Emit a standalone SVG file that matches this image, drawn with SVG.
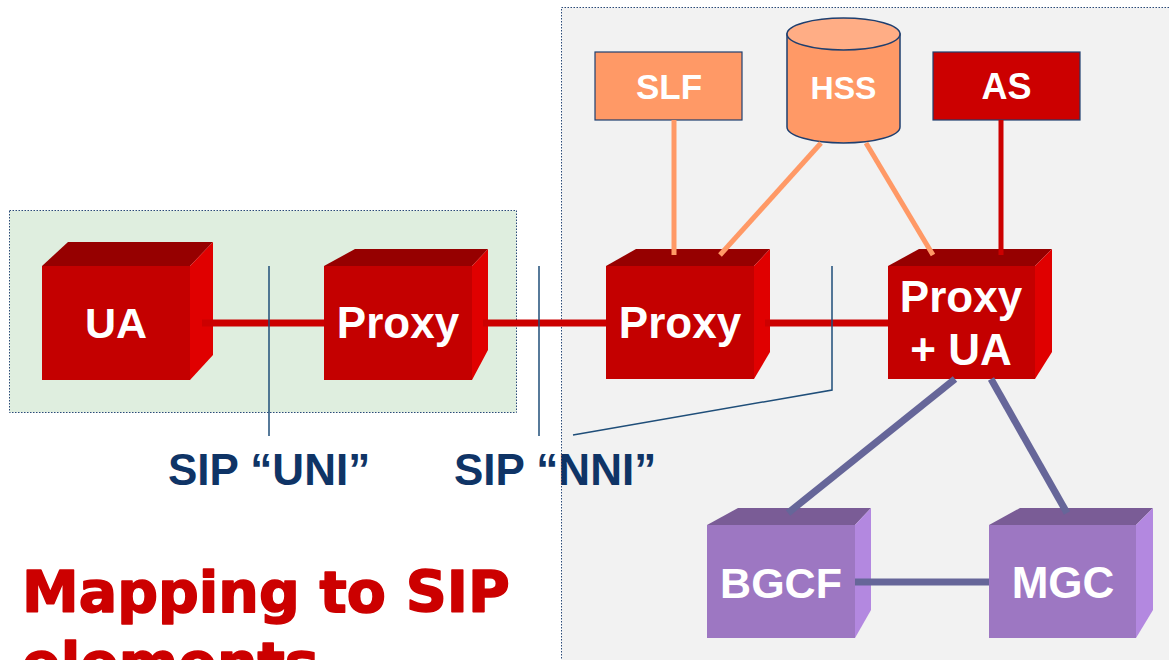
<svg xmlns="http://www.w3.org/2000/svg" width="1169" height="660" viewBox="0 0 1169 660">
<style>
.panel{stroke:#2a4a78;stroke-width:1;stroke-dasharray:1.5 1.5}
.front{fill:#c40000}.top{fill:#960000}.side{fill:#e00000}
.pfront{fill:#9d77c2}.ptop{fill:#7a5c96}.pside{fill:#b388e0}
.lbl{font-family:"Liberation Sans",Arial,sans-serif;font-weight:bold;fill:#ffffff;text-anchor:middle}
.red{stroke:#cc0000;fill:none}
.org{stroke:#ff9966;stroke-width:5;fill:none}
.pur{stroke:#666699;stroke-width:7;fill:none}
.thin{stroke:#1f4e79;stroke-width:1.5;fill:none}
.sip{font-family:"Liberation Sans",Arial,sans-serif;font-weight:bold;font-size:44px;fill:#0f3466}
.title{font-family:"DejaVu Sans","Liberation Sans",sans-serif;font-weight:bold;font-size:57px;fill:#cc0000;stroke:#cc0000;stroke-width:1.6;stroke-linejoin:round}
</style>
<rect width="1169" height="660" fill="#ffffff"/>
<g id="panels">
<rect class="panel" x="9.5" y="210.5" width="507" height="202" fill="#dfeedf"/>
<rect class="panel" x="561.5" y="7.5" width="620" height="670" fill="#f2f2f2"/>
</g>
<g id="UA">
<rect class="front" x="42" y="266" width="148" height="114"/>
<polygon class="top" points="42,266 68,242 213,242 190,266"/>
<polygon class="side" points="190,266 213,242 213,355 190,380"/>
<text class="lbl" x="116" y="338" font-size="43">UA</text>
</g>
<g id="Proxy1">
<rect class="front" x="324" y="266" width="148" height="114"/>
<polygon class="top" points="324,266 355,249 488,249 472,266"/>
<polygon class="side" points="472,266 488,249 488,350 472,380"/>
<text class="lbl" x="398" y="338" font-size="44">Proxy</text>
</g>
<g id="Proxy2">
<rect class="front" x="606" y="266" width="148" height="113"/>
<polygon class="top" points="606,266 636,249 770,249 754,266"/>
<polygon class="side" points="754,266 770,249 770,352 754,379"/>
<text class="lbl" x="680" y="338" font-size="44">Proxy</text>
</g>
<g id="ProxyUA">
<rect class="front" x="888" y="266" width="147" height="113"/>
<polygon class="top" points="888,266 919,249 1052,249 1035,266"/>
<polygon class="side" points="1035,266 1052,249 1052,352 1035,379"/>
<text class="lbl" x="961" y="312" font-size="44">Proxy</text>
<text class="lbl" x="961" y="365" font-size="44">+ UA</text>
</g>
<g id="SLF">
<rect x="595" y="52" width="147" height="68" fill="#ff9966" stroke="#1f3f6f" stroke-width="1.2"/>
<text class="lbl" x="669" y="99" font-size="35">SLF</text>
</g>
<g id="HSS">
<path d="M787,34 L787,127 A56.5,16 0 0 0 900,127 L900,34 Z" fill="#ff9966" stroke="#1f3f6f" stroke-width="1.5"/>
<ellipse cx="843.5" cy="34" rx="56.5" ry="16" fill="#ffad85" stroke="#1f3f6f" stroke-width="1.5"/>
<text class="lbl" x="843.5" y="99" font-size="32">HSS</text>
</g>
<g id="AS">
<rect x="933" y="52" width="147" height="68" fill="#cc0000" stroke="#1f3f6f" stroke-width="1.2"/>
<text class="lbl" x="1006.5" y="99" font-size="36">AS</text>
</g>
<g id="BGCF">
<rect class="pfront" x="707" y="525" width="148" height="113"/>
<polygon class="ptop" points="707,525 738,508 871,508 855,525"/>
<polygon class="pside" points="855,525 871,508 871,610 855,638"/>
<text class="lbl" x="781" y="598" font-size="43">BGCF</text>
</g>
<g id="MGC">
<rect class="pfront" x="989" y="525" width="147" height="113"/>
<polygon class="ptop" points="989,525 1020,508 1153,508 1136,525"/>
<polygon class="pside" points="1136,525 1153,508 1153,610 1136,638"/>
<text class="lbl" x="1063" y="598" font-size="44">MGC</text>
</g>
<g id="connectors">
<line class="red" stroke-width="7" x1="202" y1="323" x2="324" y2="323"/>
<line class="red" stroke-width="7" x1="483" y1="323" x2="606" y2="323"/>
<line class="red" stroke-width="7" x1="765" y1="323" x2="888" y2="323"/>
<line class="org" x1="674" y1="120" x2="674" y2="255"/>
<line class="org" x1="821" y1="143" x2="720" y2="255"/>
<line class="org" x1="866" y1="143" x2="933" y2="255"/>
<line class="red" stroke-width="5" x1="1001" y1="120" x2="1001" y2="255"/>
<line class="pur" x1="955" y1="379" x2="788" y2="513"/>
<line class="pur" x1="991" y1="379" x2="1067" y2="513"/>
<line class="pur" x1="855" y1="582" x2="989" y2="582"/>
<line class="thin" x1="269" y1="266" x2="269" y2="436"/>
<line class="thin" x1="539" y1="266" x2="539" y2="436"/>
<polyline class="thin" points="832,266 832,390 573,435"/>
</g>
<g id="labels">
<text class="sip" x="168" y="485">SIP “UNI”</text>
<text class="sip" x="454" y="485">SIP “NNI”</text>
<text class="title" x="22" y="612">Mapping to SIP</text>
<text class="title" x="22" y="683">elements</text>
</g>
</svg>
